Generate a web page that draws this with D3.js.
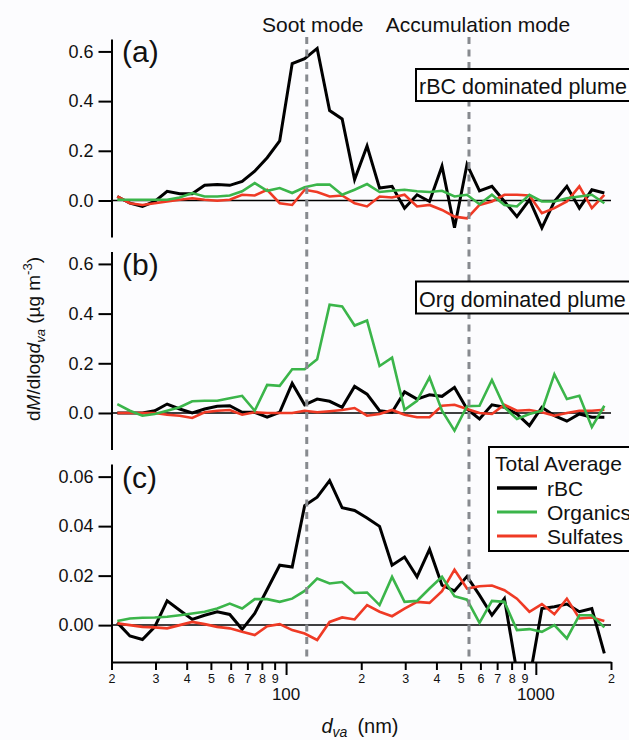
<!DOCTYPE html>
<html>
<head>
<meta charset="utf-8">
<script src="https://cdn.jsdelivr.net/npm/d3@7"></script>
<style>
  body { margin: 0; background: #fcfcfe; }
  svg { display: block; font-family: "Liberation Sans", Arial, Helvetica, sans-serif; }
</style>
</head>
<body>
<div id="chart"></div>
<script>
// vacuum aerodynamic diameter of each bin (nm)
const sizes = [21.1, 23.7, 26.6, 29.8, 33.4, 37.5, 42.1, 47.2, 53.0, 59.5, 66.7, 74.9, 84.0, 94.3, 105.8,
  118.7, 133.2, 149.4, 167.7, 188.1, 211.0, 236.8, 265.7, 298.1, 334.5, 375.3, 421.1, 472.5, 530.2, 594.9,
  667.2, 748.7, 840.1, 942.6, 1057.6, 1186.6, 1331.4, 1493.9, 1676.2, 1880.8];

// (a) rBC dominated plume
const rbcA = [0.016, -0.011, -0.024, -0.004, 0.037, 0.027, 0.027, 0.061, 0.064, 0.061, 0.077, 0.118, 0.172, 0.24, 0.551,
  0.571, 0.612, 0.362, 0.328, 0.084, 0.219, 0.05, 0.057, -0.031, 0.023, -0.004, 0.138, -0.11, 0.145, 0.039,
  0.057, -0.004, -0.065, 0.003, -0.11, -0.004, 0.057, -0.031, 0.043, 0.03];
const orgA = [0.003, 0.003, 0.003, 0.003, 0.003, 0.012, 0.03, 0.016, 0.016, 0.02, 0.037, 0.07, 0.039, 0.05, 0.03,
  0.053, 0.064, 0.064, 0.023, 0.043, 0.066, 0.034, 0.039, 0.043, 0.037, 0.034, 0.039, 0.016, 0.023, -0.015,
  0.023, -0.018, -0.024, 0.023, -0.004, -0.004, 0.009, 0.016, 0.023, -0.011];
const sulA = [0.016, -0.011, -0.018, -0.011, -0.004, 0.003, 0.009, 0.003, -0.001, 0.003, 0.023, 0.02, 0.043, -0.011, -0.018,
  0.043, 0.034, 0.016, 0.02, -0.011, -0.024, 0.016, 0.012, 0.023, -0.024, -0.018, -0.038, -0.065, -0.072, -0.018,
  -0.004, 0.023, 0.023, 0.02, -0.051, -0.031, -0.004, 0.057, -0.031, 0.023];

// (b) Org dominated plume
const rbcB = [0, 0, 0, 0.009, 0.036, 0.016, 0, 0.016, 0.027, 0.029, 0.003, 0.003, -0.017, 0.003, 0.119,
  0.033, 0.056, 0.047, 0.023, 0.107, 0.076, 0.009, 0.003, 0.085, 0.056, 0.073, 0.067, 0.103, 0.016, -0.024,
  0.033, 0.023, -0.004, -0.051, 0.023, -0.011, -0.033, -0.004, -0.017, -0.017];
const orgB = [0.036, 0.009, -0.011, -0.004, 0.009, 0.023, 0.047, 0.049, 0.049, 0.059, 0.069, 0.009, 0.113, 0.109, 0.176,
  0.176, 0.216, 0.436, 0.429, 0.352, 0.372, 0.189, 0.223, 0.013, 0.049, 0.143, 0.009, -0.071, 0.027, 0.029,
  0.133, 0.023, -0.024, -0.004, 0.009, 0.156, 0.056, 0.069, -0.057, 0.029];
const sulB = [0, 0, 0, 0, -0.007, -0.011, -0.02, 0.003, 0.009, 0.012, -0.007, 0.003, 0, 0, 0,
  0.009, 0.003, 0.007, 0.012, 0.02, -0.011, -0.004, 0.012, -0.007, -0.017, -0.017, 0.029, 0.033, 0.016, 0,
  -0.004, 0.033, 0.009, 0.012, 0.003, -0.011, 0, 0.009, 0.009, 0.013];

// (c) Total average
const rbcC = [0.001, -0.0044, -0.0058, -0.0007, 0.0098, 0.006, 0.0023, 0.004, 0.0054, 0.0043, -0.0017, 0.0047, 0.0144, 0.0242, 0.0235,
  0.0483, 0.0517, 0.0584, 0.0474, 0.0463, 0.0433, 0.0399, 0.0242, 0.0275, 0.0195, 0.0306, 0.0161, 0.0138, 0.0197, 0.0121,
  0.004, 0.0107, -0.019, -0.022, 0.0067, 0.0074, 0.0085, 0.0054, 0.0067, -0.0114];
const orgC = [0.0017, 0.0027, 0.003, 0.0031, 0.0034, 0.004, 0.0047, 0.0054, 0.0067, 0.0087, 0.0067, 0.0105, 0.0105, 0.0094, 0.0107,
  0.0138, 0.0188, 0.0168, 0.0174, 0.013, 0.0132, 0.0081, 0.0195, 0.0094, 0.0098, 0.0148, 0.0195, 0.0117, 0.0103, 0.0009,
  0.0098, 0.0094, -0.002, -0.0016, -0.0027, 0, -0.0054, 0.004, 0.004, -0.0009];
const sulC = [0.0007, 0, -0.0007, -0.0009, -0.0013, 0, 0.0013, 0.0004, -0.0007, -0.0013, -0.0027, -0.004, -0.0004, 0.0004, -0.002,
  -0.0034, -0.006, 0.0013, 0.0031, 0.0023, 0.0081, 0.0054, 0.0036, 0.0067, 0.0094, 0.009, 0.0137, 0.0224, 0.0148, 0.0157,
  0.016, 0.0141, 0.0107, 0.0054, 0.0085, 0.0044, 0.0107, 0.0027, 0.0031, 0.0017];

// axis ticks and mode markers
const xTicks = [20, 30, 40, 50, 60, 70, 80, 90, 100, 200, 300, 400, 500, 600, 700, 800, 900, 1000, 2000];
const xMajor = [100, 1000];
const yTicksBig = [0, 0.2, 0.4, 0.6];
const yTicksSmall = [0, 0.02, 0.04, 0.06];
const modeSizes = [121, 540];
const modeNames = ["Soot mode", "Accumulation mode"];
const seriesNames = ["rBC", "Organics", "Sulfates"];

const width = 629, height = 740;
const font = '"Liberation Sans", Arial, Helvetica, sans-serif';
const colors = { rBC: "#000000", Organics: "#3bb54a", Sulfates: "#ef3a25" };
const widths = { rBC: 3, Organics: 2.6, Sulfates: 2.6 };

const panels = [
  { label: "(a)", top: 39, domain: [-0.147, 0.65], ticks: yTicksBig, fmt: ".1f", box: "rBC dominated plume",
    series: { rBC: rbcA, Sulfates: sulA, Organics: orgA } },
  { label: "(b)", top: 251.5, domain: [-0.147, 0.65], ticks: yTicksBig, fmt: ".1f", box: "Org dominated plume",
    series: { rBC: rbcB, Sulfates: sulB, Organics: orgB } },
  { label: "(c)", top: 464, domain: [-0.0149, 0.0651], ticks: yTicksSmall, fmt: ".2f", box: null,
    series: { rBC: rbcC, Sulfates: sulC, Organics: orgC } }
];
const panelHeight = 198;
const left = 111.5, right = 611;

const svg = d3.select("#chart")
  .append("svg")
    .attr("width", width)
    .attr("height", height)
    .attr("viewBox", [0, 0, width, height]);

svg.append("rect").attr("width", width).attr("height", height).attr("fill", "#fcfcfe");

const x = d3.scaleLog()
  .domain([20, 2000])
  .range([left, right]);

panels.forEach((p, k) => {
  const y = d3.scaleLinear()
    .domain(p.domain)
    .range([p.top + panelHeight, p.top]);

  svg.append("clipPath")
      .attr("id", `clip${k}`)
    .append("rect")
      .attr("x", left)
      .attr("y", p.top)
      .attr("width", right - left)
      .attr("height", panelHeight);

  // zero line
  svg.append("line")
    .attr("x1", left).attr("x2", right)
    .attr("y1", y(0)).attr("y2", y(0))
    .attr("stroke", "#000")
    .attr("stroke-width", 1.5);

  // the three size distributions
  const lineGen = d3.line()
    .x((d, i) => x(sizes[i]))
    .y(d => y(d));

  svg.append("g")
      .attr("clip-path", `url(#clip${k})`)
    .selectAll("path")
    .data(["rBC", "Sulfates", "Organics"])
    .join("path")
      .attr("d", s => lineGen(p.series[s]))
      .attr("fill", "none")
      .attr("stroke", s => colors[s])
      .attr("stroke-width", s => widths[s])
      .attr("stroke-linejoin", "miter");

  // y axis
  const leftAxis = d3.axisLeft(y)
    .tickValues(p.ticks)
    .tickFormat(d3.format(p.fmt))
    .tickSize(13)
    .tickSizeOuter(0)
    .tickPadding(5);
  const ga = svg.append("g")
    .attr("transform", `translate(${left}, 0)`)
    .call(leftAxis);
  ga.select(".domain").attr("stroke-width", 2);
  ga.selectAll(".tick line").attr("stroke-width", 2);
  ga.selectAll(".tick text")
    .style("font-family", font)
    .style("font-size", "18px")
    .attr("fill", "#111");

  // panel letter
  svg.append("text")
    .attr("x", 122)
    .attr("y", y(p.ticks[3]) + 11)
    .style("font-size", "30px")
    .attr("fill", "#111")
    .text(p.label);
});

// dashed lines marking the modes
svg.append("g")
  .selectAll("line")
  .data(modeSizes)
  .join("line")
    .attr("x1", d => x(d)).attr("x2", d => x(d))
    .attr("y1", 37).attr("y2", 662)
    .attr("stroke", "#878a8f")
    .attr("stroke-width", 3)
    .attr("stroke-dasharray", "7,5.5");

svg.append("g")
  .selectAll("text")
  .data(modeNames)
  .join("text")
    .attr("x", (d, i) => x(modeSizes[i]) + (i === 0 ? 6 : 9))
    .attr("y", 32)
    .attr("text-anchor", "middle")
    .style("font-size", "21px")
    .attr("fill", "#111")
    .text(d => d);

// plume label boxes
panels.filter(p => p.box).forEach(p => {
  svg.append("rect")
    .attr("x", 416).attr("y", p.top + 30)
    .attr("width", 230).attr("height", 32)
    .attr("fill", "#fff")
    .attr("stroke", "#000")
    .attr("stroke-width", 2);
  svg.append("text")
    .attr("x", 419).attr("y", p.top + 55)
    .style("font-size", "21.5px")
    .attr("fill", "#111")
    .text(p.box);
});

// legend
const legend = svg.append("g")
  .attr("transform", "translate(489, 447)");
legend.append("rect")
  .attr("width", 160).attr("height", 104)
  .attr("fill", "#fff")
  .attr("stroke", "#000")
  .attr("stroke-width", 2);
legend.append("text")
  .attr("x", 6).attr("y", 24)
  .style("font-size", "21px")
  .attr("fill", "#111")
  .text("Total Average");
const items = legend.selectAll(".item")
  .data(seriesNames)
  .join("g")
    .attr("class", "item")
    .attr("transform", (d, i) => `translate(0, ${41 + i * 24})`);
items.append("line")
  .attr("x1", 8).attr("x2", 48)
  .attr("stroke", d => colors[d])
  .attr("stroke-width", d => widths[d] + 0.4);
items.append("text")
  .attr("x", 58).attr("y", 7.5)
  .style("font-size", "21px")
  .attr("fill", "#111")
  .text(d => d);

// x axis
const bottomAxis = d3.axisBottom(x)
  .tickValues(xTicks)
  .tickSize(8)
  .tickSizeOuter(0)
  .tickPadding(4)
  .tickFormat(d => xMajor.includes(d) ? "" : String(d)[0]);
const gx = svg.append("g")
  .attr("transform", "translate(0, 662)")
  .call(bottomAxis);
gx.select(".domain").attr("stroke-width", 2);
gx.selectAll(".tick line").attr("stroke-width", 2);
gx.selectAll(".tick text")
  .style("font-family", font)
  .style("font-size", "12.5px")
  .attr("fill", "#111");
gx.selectAll(".tick")
  .filter(d => xMajor.includes(d))
  .select("line")
    .attr("y2", 13);
gx.selectAll(".major-label")
  .data(xMajor)
  .join("text")
    .attr("class", "major-label")
    .attr("x", d => x(d))
    .attr("y", 38)
    .attr("text-anchor", "middle")
    .style("font-family", font)
    .style("font-size", "17px")
    .attr("fill", "#111")
    .text(d => d);

// axis titles
const xTitle = svg.append("text")
  .attr("x", 360)
  .attr("y", 733)
  .attr("text-anchor", "middle")
  .style("font-size", "20px")
  .attr("fill", "#111");
xTitle.append("tspan").style("font-style", "italic").text("d");
xTitle.append("tspan").style("font-style", "italic").style("font-size", "14px").attr("dy", 4).text("va");
xTitle.append("tspan").attr("dy", -4).text("\u2002(nm)");

const yTitle = svg.append("text")
  .attr("transform", "translate(40, 339) rotate(-90)")
  .attr("text-anchor", "middle")
  .style("font-size", "19px")
  .attr("fill", "#111");
yTitle.append("tspan").text("d");
yTitle.append("tspan").style("font-style", "italic").text("M");
yTitle.append("tspan").text("/dlog");
yTitle.append("tspan").style("font-style", "italic").text("d");
yTitle.append("tspan").style("font-style", "italic").style("font-size", "13px").attr("dy", 5).text("va");
yTitle.append("tspan").attr("dy", -5).text(" (\u00b5g m");
yTitle.append("tspan").style("font-size", "13px").attr("dy", -8).text("-3");
yTitle.append("tspan").attr("dy", 8).text(")");
</script>
</body>
</html>
